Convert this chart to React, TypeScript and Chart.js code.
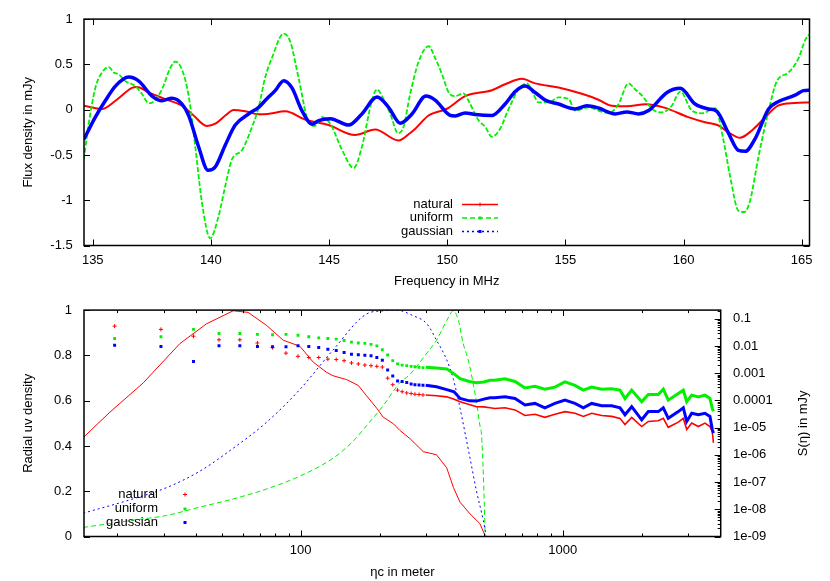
import React, { useEffect, useRef } from 'react';
import { Chart, registerables } from 'chart.js';
Chart.register(...registerables);

const FONT = '"Liberation Sans", Arial, sans-serif';
const RED = '#ff0000';
const GREEN = '#00f000';
const BLUE = '#0000ff';

// ---------- top panel: flux density vs frequency ----------
const freqTicks = [135, 140, 145, 150, 155, 160, 165];
const fluxTicks = [-1.5, -1, -0.5, 0, 0.5, 1];
const fluxTickLabels = ['-1.5', '-1', '-0.5', '0', '0.5', '1'];

const naturalFreq = [134.62, 135.39, 135.96, 136.66, 136.87, 137.37, 138.07, 138.78, 139.2, 139.83, 140.19, 140.61, 140.96, 141.46, 142.0, 142.4, 143.15, 143.99, 144.98, 146.1, 146.95, 147.94, 148.42, 148.65, 149.21, 149.99, 150.76, 151.89, 152.45, 153.16, 153.72, 154.71, 155.7, 156.4, 156.97, 157.6, 158.4, 159.22, 160.2, 160.91, 161.48, 161.9, 162.39, 162.89, 163.4, 164.0, 164.7, 165.35];
const naturalFlux = [0.043, 0.008, 0.098, 0.24, 0.25, 0.19, 0.116, 0.043, -0.047, -0.18, -0.155, -0.065, -0.003, -0.018, -0.05, -0.047, -0.018, -0.11, -0.17, -0.28, -0.22, -0.34, -0.26, -0.21, -0.065, 0.01, 0.15, 0.215, 0.28, 0.34, 0.29, 0.245, 0.175, 0.11, 0.043, 0.037, 0.06, 0.02, -0.083, -0.14, -0.175, -0.25, -0.31, -0.23, -0.1, 0.045, 0.073, 0.08];

const uniformFreq = [134.62, 134.83, 135.11, 135.39, 135.68, 135.89, 136.1, 136.38, 136.8, 137.09, 137.37, 137.58, 137.93, 138.28, 138.49, 138.78, 139.06, 139.34, 139.62, 139.97, 140.33, 140.61, 140.89, 141.32, 141.74, 142.02, 142.3, 142.58, 143.08, 143.36, 143.71, 144.14, 144.42, 144.7, 145.05, 145.55, 146.04, 146.39, 146.81, 147.03, 147.24, 147.59, 147.92, 148.15, 148.43, 148.79, 149.21, 149.49, 149.78, 150.06, 150.34, 150.69, 150.9, 151.33, 151.61, 151.89, 152.24, 152.6, 153.02, 153.37, 153.65, 153.86, 154.29, 154.71, 155.14, 155.42, 155.98, 156.4, 156.83, 157.25, 157.67, 157.95, 158.31, 158.66, 159.08, 159.5, 159.86, 160.35, 160.78, 161.34, 161.69, 161.97, 162.32, 162.58, 162.82, 163.17, 163.6, 163.95, 164.44, 164.87, 165.15, 165.36];
const uniformFlux = [-0.55, -0.155, 0.24, 0.41, 0.47, 0.41, 0.39, 0.315, 0.26, 0.17, 0.07, 0.09, 0.225, 0.46, 0.53, 0.44, 0.15, -0.41, -1.025, -1.42, -1.17, -0.84, -0.55, -0.445, -0.19, 0.026, 0.36, 0.57, 0.84, 0.75, 0.35, -0.14, -0.18, -0.083, -0.155, -0.445, -0.645, -0.41, 0.098, 0.225, 0.15, -0.047, -0.26, -0.19, 0.17, 0.53, 0.7, 0.57, 0.39, 0.19, 0.15, 0.18, 0.098, -0.12, -0.19, -0.3, -0.21, 0.008, 0.225, 0.29, 0.17, 0.08, 0.08, 0.135, 0.116, -0.01, 0.026, -0.01, -0.04, 0.062, 0.29, 0.225, 0.135, 0.008, -0.03, 0.043, 0.2, -0.01, -0.04, 0.018, -0.34, -0.735, -1.115, -1.13, -1.0, -0.52, -0.01, 0.315, 0.41, 0.57, 0.77, 0.84];

const gaussianFreq = [134.62, 135.11, 135.53, 135.96, 136.52, 136.95, 137.51, 137.93, 138.35, 138.78, 139.06, 139.48, 139.88, 140.19, 140.61, 141.03, 141.6, 142.02, 142.37, 142.72, 143.08, 143.43, 143.85, 144.28, 144.56, 145.05, 145.83, 146.39, 147.03, 147.52, 148.01, 148.51, 149.1, 149.49, 150.1, 150.34, 150.76, 151.19, 151.89, 152.45, 152.88, 153.3, 153.72, 154.15, 154.71, 155.42, 155.91, 156.4, 157.11, 157.6, 158.1, 158.52, 159.3, 159.86, 160.49, 161.06, 161.41, 161.9, 162.32, 162.61, 163.03, 163.6, 164.02, 164.72, 165.07, 165.35];
const gaussianFlux = [-0.33, -0.083, 0.098, 0.26, 0.36, 0.315, 0.15, 0.098, 0.127, 0.062, -0.065, -0.41, -0.67, -0.63, -0.39, -0.17, -0.047, 0.026, 0.12, 0.21, 0.32, 0.24, -0.01, -0.16, -0.12, -0.1, -0.17, -0.047, 0.14, 0.026, -0.15, -0.047, 0.15, 0.105, -0.06, -0.07, -0.036, -0.054, -0.065, 0.062, 0.2, 0.26, 0.19, 0.105, 0.062, 0.008, 0.043, 0.018, -0.047, -0.025, -0.047, -0.01, 0.19, 0.236, 0.062, 0.008, -0.018, -0.26, -0.45, -0.46, -0.32, 0.008, 0.09, 0.16, 0.21, 0.215];

// ---------- bottom panel ----------
const etaTicks = [100, 1000];
const etaTickLabels = ['100', '1000'];
const densityTicks = [0, 0.2, 0.4, 0.6, 0.8, 1];
const densityTickLabels = ['0', '0.2', '0.4', '0.6', '0.8', '1'];
const spectrumTicks = [1e-9, 1e-8, 1e-7, 1e-6, 1e-5, 1e-4, 1e-3, 1e-2, 1e-1];
const spectrumTickLabels = ['1e-09', '1e-08', '1e-07', '1e-06', '1e-05', '0.0001', '0.001', '0.01', '0.1'];

// radial uv density (left axis)
const naturalDensityEta = [14.8, 18.7, 25.1, 34.6, 43.8, 55.3, 63, 74.2, 85.8, 99.4, 111.7, 125.7, 133, 149.8, 166, 178.6, 195, 206.6, 225.9, 239, 261, 293.5, 330, 361, 383, 406, 443, 483, 505];
const naturalDensity = [0.437, 0.549, 0.679, 0.852, 0.94, 0.997, 0.99, 0.932, 0.867, 0.84, 0.77, 0.725, 0.71, 0.693, 0.667, 0.621, 0.567, 0.527, 0.498, 0.469, 0.433, 0.375, 0.361, 0.303, 0.216, 0.151, 0.1, 0.057, 0.005];
const uniformDensityEta = [14.8, 22.9, 30.8, 41.3, 55.3, 74.2, 99.4, 133, 158, 178.6, 206.6, 239, 261, 303, 330, 361, 383, 400, 417, 436, 469, 483, 490, 498, 506];
const uniformDensity = [0.04, 0.072, 0.093, 0.13, 0.166, 0.21, 0.267, 0.346, 0.419, 0.49, 0.578, 0.679, 0.715, 0.81, 0.867, 0.954, 0.997, 0.954, 0.853, 0.78, 0.592, 0.491, 0.448, 0.274, 0.005];
const gaussianDensityEta = [14.8, 22.9, 30.8, 41.3, 55.3, 74.2, 99.4, 133, 178.6, 206.6, 232, 269, 303, 330, 361, 383, 406, 443, 469, 498, 510];
const gaussianDensity = [0.103, 0.166, 0.216, 0.289, 0.39, 0.505, 0.65, 0.824, 0.983, 0.997, 1.0, 0.975, 0.94, 0.867, 0.78, 0.693, 0.565, 0.346, 0.2, 0.07, 0.005];

// S(eta) (right axis), sparse low-eta points
const etaSparse = [19.5, 29.3, 39, 48.8, 58.6, 68.4, 78.1, 87.9, 97.7, 107.4, 117.2, 127, 136.7, 146.5, 156.3, 166, 175.8, 185.6, 195.3, 205, 214.8, 224.6, 234.4, 244, 254, 264, 273, 283, 293];
const naturalSparse = [0.054, 0.041, 0.023, 0.017, 0.017, 0.013, 0.0088, 0.0055, 0.0042, 0.0038, 0.0038, 0.0033, 0.0032, 0.0029, 0.0024, 0.0022, 0.002, 0.0019, 0.0018, 0.0017, 0.00066, 0.00038, 0.00024, 0.00021, 0.00019, 0.00018, 0.00017, 0.000166, 0.00016];
const uniformSparse = [0.019, 0.022, 0.041, 0.029, 0.029, 0.027, 0.026, 0.027, 0.025, 0.022, 0.02, 0.019, 0.018, 0.016, 0.014, 0.013, 0.0126, 0.0116, 0.0102, 0.0073, 0.0047, 0.0029, 0.0022, 0.002, 0.0019, 0.0018, 0.00174, 0.00166, 0.00162];
const gaussianSparse = [0.0107, 0.0096, 0.0027, 0.0102, 0.0102, 0.0096, 0.0094, 0.0094, 0.0102, 0.0096, 0.0088, 0.0077, 0.0069, 0.0058, 0.005, 0.0048, 0.0046, 0.0044, 0.0038, 0.003, 0.00133, 0.00079, 0.00052, 0.0005, 0.00046, 0.0004, 0.00038, 0.00037, 0.00036];

// S(eta) dense high-eta region
const etaDense = [300, 330, 361, 385, 406, 440, 469, 500, 528, 551, 602, 658, 718, 784, 855, 934, 1020, 1114, 1199, 1290, 1409, 1538, 1655, 1729, 1834, 2002, 2122, 2317, 2421, 2529, 2762, 2886, 2974, 3108, 3293, 3492, 3648, 3724, 3760];
const naturalDense = [1.6e-4, 1.5e-4, 1.36e-4, 1.12e-4, 9.0e-5, 7.1e-5, 5.9e-5, 5.8e-5, 5.4e-5, 5.1e-5, 5.4e-5, 4.5e-5, 2.8e-5, 3.1e-5, 2.4e-5, 3.1e-5, 3.9e-5, 3.4e-5, 2.6e-5, 3.4e-5, 2.8e-5, 2.6e-5, 2.2e-5, 1.3e-5, 2.4e-5, 1.1e-5, 1.7e-5, 1.8e-5, 2.2e-5, 1.03e-5, 1.6e-5, 2.2e-5, 8.5e-6, 1.47e-5, 1.1e-5, 1.47e-5, 1.1e-5, 7.3e-6, 2.8e-6];
const uniformDense = [1.66e-3, 1.57e-3, 1.45e-3, 9.5e-4, 6.3e-4, 5.0e-4, 4.5e-4, 4.8e-4, 5.5e-4, 5.5e-4, 6.3e-4, 5.0e-4, 2.9e-4, 3.3e-4, 2.6e-4, 3.1e-4, 4.8e-4, 3.6e-4, 2.4e-4, 3.1e-4, 2.6e-4, 2.7e-4, 2.4e-4, 1.18e-4, 2.4e-4, 9.0e-5, 1.65e-4, 1.65e-4, 2.6e-4, 1.03e-4, 1.8e-4, 2.4e-4, 9.0e-5, 1.57e-4, 1.36e-4, 1.57e-4, 1.18e-4, 5.1e-5, 4.0e-5];
const gaussianDense = [3.6e-4, 3.2e-4, 2.5e-4, 2.1e-4, 1.18e-4, 9.7e-5, 9.5e-5, 1.12e-4, 1.25e-4, 1.25e-4, 1.36e-4, 1.18e-4, 6.8e-5, 7.8e-5, 5.4e-5, 7.8e-5, 1.03e-4, 7.8e-5, 5.4e-5, 7.8e-5, 6.4e-5, 6.4e-5, 5.4e-5, 3.0e-5, 5.9e-5, 1.95e-5, 3.9e-5, 3.9e-5, 5.4e-5, 2.2e-5, 3.9e-5, 5.4e-5, 1.7e-5, 3.4e-5, 3.0e-5, 3.4e-5, 2.6e-5, 8.5e-6, 6.3e-6];

const legendNames = ['natural', 'uniform', 'gaussian'];

const zip = (xs: number[], ys: number[]) => xs.map((x, i) => ({ x, y: ys[i] }));

const minorLog = (majors: number[], lo: number, hi: number) => {
  const out: number[] = [];
  const decades = [majors[0] / 10, ...majors];
  for (const d of decades) for (let m = 2; m <= 9; m++) { const v = m * d; if (v >= lo && v <= hi) out.push(v); }
  return out;
};

const font = { family: FONT, size: 13 };
const noGrid = { display: false, drawTicks: false, drawOnChartArea: false };

type TickSpec = { axis: string; values: number[]; len: number; sides: string[] };

function drawMarker(ctx: CanvasRenderingContext2D, kind: string, x: number, y: number, color: string) {
  ctx.save();
  ctx.fillStyle = color; ctx.strokeStyle = color; ctx.lineWidth = 1;
  if (kind === 'plus') {
    ctx.beginPath(); ctx.moveTo(x - 2, y); ctx.lineTo(x + 2, y); ctx.moveTo(x, y - 2); ctx.lineTo(x, y + 2); ctx.stroke();
  } else {
    ctx.fillRect(x - 1.5, y - 1.5, 3, 3);
  }
  ctx.restore();
}

function makeFrame(ticks: TickSpec[], extra: (chart: any) => void) {
  return {
    id: 'frame',
    afterDatasetsDraw(chart: any) {
      const { ctx, chartArea: a } = chart;
      ctx.save();
      ctx.strokeStyle = '#000';
      ctx.lineWidth = 1;
      for (const t of ticks) {
        const s = chart.scales[t.axis];
        for (const v of t.values) {
          const p = Math.round(s.getPixelForValue(v)) + 0.5;
          ctx.beginPath();
          for (const side of t.sides) {
            if (side === 'bottom') { ctx.moveTo(p, a.bottom); ctx.lineTo(p, a.bottom - t.len); }
            if (side === 'top') { ctx.moveTo(p, a.top); ctx.lineTo(p, a.top + t.len); }
            if (side === 'left') { ctx.moveTo(a.left, p); ctx.lineTo(a.left + t.len, p); }
            if (side === 'right') { ctx.moveTo(a.right, p); ctx.lineTo(a.right - t.len, p); }
          }
          ctx.stroke();
        }
      }
      ctx.lineWidth = 1.5;
      ctx.strokeRect(a.left, a.top, a.right - a.left, a.bottom - a.top);
      ctx.restore();
      extra(chart);
    },
  };
}

export default function App() {
  const topRef = useRef<HTMLCanvasElement>(null);
  const botRef = useRef<HTMLCanvasElement>(null);

  useEffect(() => {
    Chart.defaults.font.family = FONT;
    Chart.defaults.font.size = 13;
    Chart.defaults.color = '#000';

    const topFrame = makeFrame(
      [
        { axis: 'x', values: freqTicks, len: 6, sides: ['bottom', 'top'] },
        { axis: 'y', values: fluxTicks, len: 6, sides: ['left', 'right'] },
      ],
      (chart) => {
        const ctx = chart.ctx as CanvasRenderingContext2D;
        ctx.save();
        ctx.font = `13px ${FONT}`;
        ctx.textAlign = 'right';
        ctx.textBaseline = 'middle';
        const rows = [204, 217.5, 231];
        const colors = [RED, GREEN, BLUE];
        const dashes = [[], [5, 3], [2, 3]];
        rows.forEach((y, i) => {
          ctx.fillStyle = '#000';
          ctx.fillText(legendNames[i], 453, y);
          ctx.strokeStyle = colors[i];
          ctx.lineWidth = 1.5;
          ctx.setLineDash(dashes[i]);
          ctx.beginPath(); ctx.moveTo(462, y + 0.5); ctx.lineTo(498, y + 0.5); ctx.stroke();
          ctx.setLineDash([]);
          drawMarker(ctx, i === 0 ? 'plus' : 'sq', 480, y + 0.5, colors[i]);
        });
        ctx.restore();
      }
    );

    const top = new Chart(topRef.current!, {
      type: 'scatter',
      data: {
        datasets: [
          { label: 'gaussian', data: zip(gaussianFreq, gaussianFlux), showLine: true, borderColor: BLUE, backgroundColor: BLUE, borderWidth: 3.5, pointRadius: 0, cubicInterpolationMode: 'monotone' },
          { label: 'uniform', data: zip(uniformFreq, uniformFlux), showLine: true, borderColor: GREEN, backgroundColor: GREEN, borderWidth: 1.8, borderDash: [5, 2], pointRadius: 0, cubicInterpolationMode: 'monotone' },
          { label: 'natural', data: zip(naturalFreq, naturalFlux), showLine: true, borderColor: RED, backgroundColor: RED, borderWidth: 2, pointRadius: 0, cubicInterpolationMode: 'monotone' },
        ],
      } as any,
      options: {
        animation: false,
        responsive: false,
        events: [],
        layout: { padding: { left: 0, right: 20.5, top: 16, bottom: 0 } },
        plugins: { legend: { display: false }, tooltip: { enabled: false } },
        scales: {
          x: {
            type: 'linear', min: 134.63, max: 165.33,
            grid: noGrid, border: { display: false },
            afterBuildTicks: (s: any) => { s.ticks = freqTicks.map((v) => ({ value: v })); },
            afterFit: (s: any) => { s.height = 44.5; },
            ticks: { font, color: '#000', padding: 6.7, maxRotation: 0, autoSkip: false, callback: (v: any) => String(v) },
            title: { display: true, text: 'Frequency in MHz', font, color: '#000', padding: { top: 0, bottom: 0.5 } },
          },
          y: {
            type: 'linear', min: -1.5, max: 1,
            grid: noGrid, border: { display: false },
            afterBuildTicks: (s: any) => { s.ticks = fluxTicks.map((v) => ({ value: v })); },
            afterFit: (s: any) => { s.width = 84; },
            ticks: { font, color: '#000', padding: 11.3, autoSkip: false, callback: (_v: any, i: number) => fluxTickLabels[i] },
            title: { display: true, text: 'Flux density in mJy', font, color: '#000', padding: { top: 20.2, bottom: 0 } },
          },
        },
      } as any,
      plugins: [topFrame],
    });

    const xMin = 14.9, xMax = 4009;
    const y2Min = 1e-9, y2Max = 0.21;

    const botFrame = makeFrame(
      [
        { axis: 'x', values: etaTicks, len: 6, sides: ['bottom', 'top'] },
        { axis: 'x', values: minorLog(etaTicks, xMin, xMax), len: 3, sides: ['bottom', 'top'] },
        { axis: 'y', values: densityTicks, len: 6, sides: ['left'] },
        { axis: 'y2', values: spectrumTicks, len: 6, sides: ['right'] },
        { axis: 'y2', values: minorLog(spectrumTicks, y2Min, y2Max), len: 3, sides: ['right'] },
      ],
      (chart) => {
        const ctx = chart.ctx as CanvasRenderingContext2D;
        ctx.save();
        ctx.font = `13px ${FONT}`;
        ctx.textAlign = 'right';
        ctx.textBaseline = 'middle';
        const rows = [204, 218.5, 232];
        const colors = [RED, GREEN, BLUE];
        rows.forEach((y, i) => {
          ctx.fillStyle = '#000';
          ctx.fillText(legendNames[i], 158, y);
          drawMarker(ctx, i === 0 ? 'plus' : 'sq', 185, y + 0.5, colors[i]);
        });
        // right axis title, reading bottom to top
        const a = chart.chartArea;
        ctx.translate(803.3, (a.top + a.bottom) / 2);
        ctx.rotate(-Math.PI / 2);
        ctx.textAlign = 'center';
        ctx.fillText('S(\u03b7) in mJy', 0, 0);
        ctx.restore();
      }
    );

    const bot = new Chart(botRef.current!, {
      type: 'scatter',
      data: {
        datasets: [
          { data: zip(etaSparse, gaussianSparse), yAxisID: 'y2', showLine: false, pointStyle: 'rect', pointRadius: 2.1, borderWidth: 0, backgroundColor: BLUE, borderColor: BLUE },
          { data: zip(etaSparse, uniformSparse), yAxisID: 'y2', showLine: false, pointStyle: 'rect', pointRadius: 2.0, borderWidth: 0, backgroundColor: GREEN, borderColor: GREEN },
          { data: zip(etaSparse, naturalSparse), yAxisID: 'y2', showLine: false, pointStyle: 'cross', pointRadius: 2, borderWidth: 1, backgroundColor: RED, borderColor: RED },
          { data: zip(etaDense, gaussianDense), yAxisID: 'y2', showLine: true, pointRadius: 0, borderWidth: 3, borderColor: BLUE },
          { data: zip(etaDense, uniformDense), yAxisID: 'y2', showLine: true, pointRadius: 0, borderWidth: 3, borderColor: GREEN },
          { data: zip(etaDense, naturalDense), yAxisID: 'y2', showLine: true, pointRadius: 0, borderWidth: 1.6, borderColor: RED },
          { data: zip(gaussianDensityEta, gaussianDensity), yAxisID: 'y', showLine: true, pointRadius: 0, borderWidth: 1, borderDash: [2, 3], borderColor: BLUE, cubicInterpolationMode: 'monotone' },
          { data: zip(uniformDensityEta, uniformDensity), yAxisID: 'y', showLine: true, pointRadius: 0, borderWidth: 1, borderDash: [5, 3], borderColor: GREEN, cubicInterpolationMode: 'monotone' },
          { data: zip(naturalDensityEta, naturalDensity), yAxisID: 'y', showLine: true, pointRadius: 0, borderWidth: 1, borderColor: RED },
        ],
      } as any,
      options: {
        animation: false,
        responsive: false,
        events: [],
        layout: { padding: { left: 0, right: 0, top: 16, bottom: 0 } },
        plugins: { legend: { display: false }, tooltip: { enabled: false } },
        scales: {
          x: {
            type: 'logarithmic', min: xMin, max: xMax,
            grid: noGrid, border: { display: false },
            afterBuildTicks: (s: any) => { s.ticks = etaTicks.map((v) => ({ value: v })); },
            afterFit: (s: any) => { s.height = 44.5; },
            ticks: { font, color: '#000', padding: 5.7, maxRotation: 0, autoSkip: false, callback: (_v: any, i: number) => etaTickLabels[i] },
            title: { display: true, text: '\u03b7c in meter', font, color: '#000', padding: { top: 0, bottom: 0.9 } },
          },
          y: {
            type: 'linear', position: 'left', min: 0, max: 1,
            grid: noGrid, border: { display: false },
            afterBuildTicks: (s: any) => { s.ticks = densityTicks.map((v) => ({ value: v })); },
            afterFit: (s: any) => { s.width = 84; },
            ticks: { font, color: '#000', padding: 12, autoSkip: false, callback: (_v: any, i: number) => densityTickLabels[i] },
            title: { display: true, text: 'Radial uv density', font, color: '#000', padding: { top: 20.2, bottom: 0 } },
          },
          y2: {
            type: 'logarithmic', position: 'right', min: y2Min, max: y2Max,
            grid: noGrid, border: { display: false },
            afterBuildTicks: (s: any) => { s.ticks = spectrumTicks.map((v) => ({ value: v })); },
            afterFit: (s: any) => { s.width = 109.3; },
            ticks: { font, color: '#000', padding: 12.3, autoSkip: false, callback: (_v: any, i: number) => spectrumTickLabels[i] },
            title: { display: false },
          },
        },
      } as any,
      plugins: [botFrame],
    });

    return () => { top.destroy(); bot.destroy(); };
  }, []);

  return (
    <div style={{ position: 'absolute', left: 0, top: 0, width: 830, height: 581, background: '#fff' }}>
      <canvas ref={topRef} width={830} height={290} style={{ position: 'absolute', left: 0, top: 0, width: 830, height: 290 }} />
      <canvas ref={botRef} width={830} height={291} style={{ position: 'absolute', left: 0, top: 290, width: 830, height: 291 }} />
    </div>
  );
}
